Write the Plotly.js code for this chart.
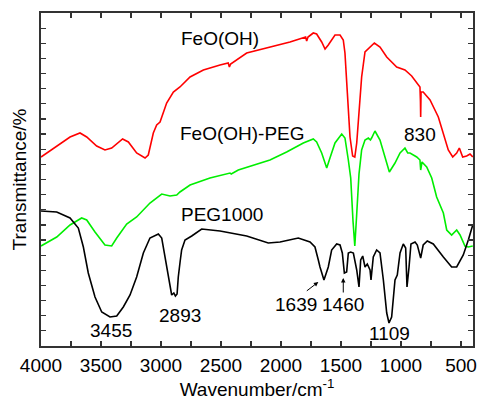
<!DOCTYPE html>
<html><head><meta charset="utf-8">
<script src="https://cdn.plot.ly/plotly-3.0.1.min.js"></script>
<style>body{margin:0;background:#fff}#c{width:480px;height:403px}</style>
</head><body><div id="c"></div>
<script>
// FeO(OH)
const redX = [4000,3883,3758,3675,3619,3536,3467,3411,3320,3272,3203,3133,3106,3064,3036,3008,2953,2897,2842,2758,2647,2508,2440,2430,2420,2286,2092,1925,1795,1786,1775,1731,1703,1661,1633,1606,1550,1508,1481,1467,1447,1425,1403,1385,1369,1347,1328,1300,1258,1222,1175,1119,1036,967,911,864,842,838,836,833,815,758,689,647,606,569,536,514,486,453,425,402];
const redY = [189,199,209,213,209,200,196,198,207,204,193,188,191,213,221,224,243,254,259,269,276,281,283,279,282,293,299,304,309,305,309,313,312,304,297,301,311,311,306,293,253,209,190,189,203,236,269,294,299,303,299,289,279,276,270,263,259,245,229,254,254,246,229,213,196,189,193,198,189,190,192,189];
// FeO(OH)-PEG
const greenX = [4000,3869,3758,3661,3619,3550,3467,3411,3369,3286,3203,3092,2994,2925,2869,2842,2758,2592,2425,2415,2356,2231,2092,1953,1814,1731,1703,1661,1619,1592,1550,1494,1467,1439,1419,1400,1385,1370,1350,1328,1300,1272,1255,1245,1217,1175,1133,1097,1050,1008,967,944,925,869,842,836,825,786,744,703,647,619,578,536,508,467,439,402];
const greenY = [100,109,121,128,126,114,101,100,108,122,129,143,152,150,151,154,161,168,173,172,176,181,186,194,203,207,204,193,178,188,203,212,208,186,168,125,100,130,172,196,206,208,206,208,215,206,189,174,183,193,198,193,193,189,186,176,184,179,168,149,133,116,111,116,111,100,99,100];
// PEG1000
const blackX = [4000,3869,3758,3689,3647,3606,3550,3494,3425,3369,3314,3258,3203,3147,3092,3022,2994,2967,2939,2925,2911,2893,2880,2866,2856,2840,2828,2800,2744,2661,2508,2286,2106,2008,1939,1856,1758,1717,1689,1675,1642,1606,1578,1536,1508,1489,1472,1453,1439,1419,1397,1369,1350,1336,1319,1300,1281,1258,1250,1231,1203,1175,1147,1119,1100,1078,1050,1031,1008,981,961,950,933,917,883,864,836,815,781,731,647,578,536,481,439,402];
const blackY = [135,134,128,118,99,73,49,34,29,30,39,51,69,93,108,112,108,89,69,60,51,53,50,52,69,85,96,106,110,117,115,110,103,104,106,108,104,99,86,79,66,79,96,102,101,93,73,74,93,94,93,76,59,86,90,79,82,76,66,89,96,93,66,33,23,29,66,71,93,102,98,59,79,102,104,101,88,101,105,102,89,79,79,91,106,121];

const labels = [
  {t:'FeO(OH)', x:2512, y:308},
  {t:'FeO(OH)-PEG', x:2317, y:213},
  {t:'830', x:844, y:212},
  {t:'PEG1000', x:2492, y:132},
  {t:'3455', x:3418, y:16},
  {t:'2893', x:2842, y:31},
  {t:'1639', x:1879, y:42},
  {t:'1460', x:1483, y:42},
  {t:'1109', x:1100, y:13}
];
const arrows = [
  {x:1689, y:64, ax:-13, ay:10},
  {x:1481, y:68, ax:0, ay:16}
];

const F = 'Liberation Sans, Arial, sans-serif';
const traces = [
  {x:redX, y:redY, color:'#ff0000'},
  {x:greenX, y:greenY, color:'#00ee00'},
  {x:blackX, y:blackY, color:'#000000'}
].map(s => ({x:s.x, y:s.y, type:'scatter', mode:'lines', line:{color:s.color, width:1.6}, hoverinfo:'skip'}));

const ann = labels.map(l => ({x:l.x, y:l.y, xref:'x', yref:'y', text:l.t, showarrow:false,
  font:{family:F, size:19, color:'#000'}, xanchor:'center', yanchor:'middle'}))
 .concat(arrows.map(a => ({x:a.x, y:a.y, xref:'x', yref:'y', text:'', showarrow:true,
  ax:a.ax, ay:a.ay, arrowhead:2, arrowsize:0.9, arrowwidth:1, arrowcolor:'#000'})));

const layout = {
  width:480, height:403,
  margin:{l:41, r:7, t:13, b:57},
  paper_bgcolor:'#fff', plot_bgcolor:'#fff',
  showlegend:false,
  font:{family:F, size:19, color:'#000'},
  xaxis:{range:[4000,400], dtick:500, tick0:0, ticks:'inside', ticklen:5, tickwidth:1.2, tickcolor:'#333',
    minor:{dtick:250, ticks:'inside', ticklen:5, tickwidth:1.2, tickcolor:'#333'},
    showline:true, linecolor:'#333', linewidth:1.6, mirror:'ticks', showgrid:false, zeroline:false,
    tickfont:{family:F, size:19}, ticklabelstandoff:2,
    title:{text:'Wavenumber/cm<sup>-1</sup>', font:{family:F, size:19}, standoff:6}},
  yaxis:{range:[0,333], tick0:0, dtick:333/22, ticks:'inside', ticklen:5, tickwidth:1.2, tickcolor:'#333',
    showticklabels:false, showline:true, linecolor:'#333', linewidth:1.6, mirror:'ticks', showgrid:false, zeroline:false,
    title:{text:'Transmittance/%', font:{family:F, size:19}, standoff:8}},
  annotations:ann
};
Plotly.newPlot('c', traces, layout, {staticPlot:true, displayModeBar:false});
</script></body></html>
